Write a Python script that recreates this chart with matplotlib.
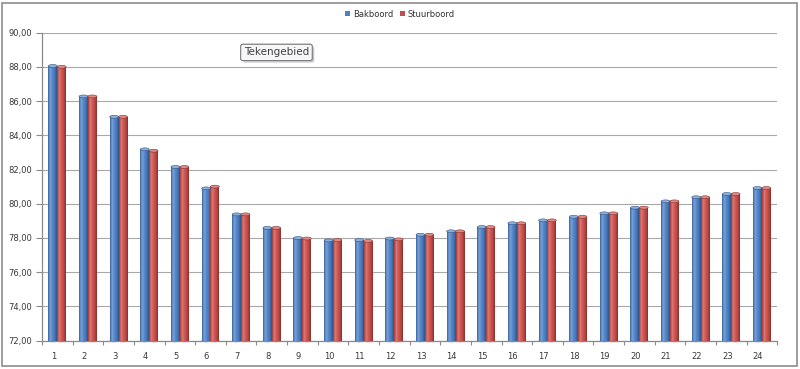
import numpy as np
import matplotlib
matplotlib.use('Agg')
import matplotlib.pyplot as plt
import matplotlib.transforms as mtransforms
import matplotlib.patheffects as pe
from matplotlib.colors import LinearSegmentedColormap
from matplotlib.patches import Ellipse, Patch, Rectangle

# data
categories = [str(i) for i in range(1, 25)]
bakboord = [88.05, 86.27, 85.08, 83.18, 82.15, 80.90, 79.38, 78.59, 78.00, 77.86, 77.88, 77.97,
            78.19, 78.39, 78.64, 78.86, 79.03, 79.24, 79.44, 79.77, 80.14, 80.38, 80.57, 80.92]
stuurboord = [88.00, 86.27, 85.08, 83.10, 82.15, 81.00, 79.38, 78.59, 77.97, 77.88, 77.83, 77.92,
              78.19, 78.39, 78.64, 78.86, 79.03, 79.24, 79.44, 79.77, 80.14, 80.38, 80.57, 80.92]
series_names = ['Bakboord', 'Stuurboord']
y_ticks = [72, 74, 76, 78, 80, 82, 84, 86, 88, 90]
y_labels = [f'{v:.2f}'.replace('.', ',') for v in y_ticks]
floor = 72

blue_cmap = LinearSegmentedColormap.from_list('b', ['#3A6296', '#7AA3DA', '#5587CA', '#4677B8', '#2F5282'])
red_cmap = LinearSegmentedColormap.from_list('r', ['#963A38', '#E07A76', '#D05753', '#BC4845', '#86302E'])


def cylinders(ax, bars, cmap, top_color, edge_color):
    # fake Excel's cylinder look: gradient clipped to each bar plus an elliptic cap
    grad = np.linspace(0, 1, 64).reshape(1, -1)
    for bar in bars:
        x0, w = bar.get_x(), bar.get_width()
        y0, h = bar.get_y(), bar.get_height()
        im = ax.imshow(grad, extent=(x0, x0 + w, y0, y0 + h), aspect='auto', cmap=cmap,
                       origin='lower', zorder=3, interpolation='bilinear')
        im.set_clip_path(bar)
        ax.add_patch(Ellipse((x0 + w / 2, y0 + h), w, 0.17, facecolor=top_color,
                             edgecolor=edge_color, lw=0.4, zorder=4))
        ax.add_patch(Ellipse((x0 + w / 2, y0), w, 0.17, facecolor=edge_color,
                             edgecolor='none', zorder=2.5, clip_on=False))


fig = plt.figure(figsize=(8, 3.69), dpi=100)
ax = fig.add_axes([0.0525, 0.0767, 0.919, 0.835])

x = np.arange(1, len(categories) + 1)
w = 0.29
b1 = ax.bar(x - w / 2, np.array(bakboord) - floor, w, bottom=floor, color='#4F81BD', zorder=3)
b2 = ax.bar(x + w / 2, np.array(stuurboord) - floor, w, bottom=floor, color='#C0504D', zorder=3)
cylinders(ax, b1, blue_cmap, '#8DB0DC', '#2F5282')
cylinders(ax, b2, red_cmap, '#DE8A87', '#86302E')

ax.set_xlim(0.5, len(categories) + 0.5)
ax.set_ylim(floor, 90)
ax.set_yticks(y_ticks)
ax.set_yticklabels(y_labels)
ax.set_xticks(x)
ax.set_xticklabels(categories)
ax.set_xticks(np.arange(0.5, len(categories) + 1), minor=True)

ax.yaxis.grid(True, color='#A8A8A8', lw=0.8, zorder=0)
ax.set_axisbelow(True)
for s in ['top', 'right']:
    ax.spines[s].set_visible(False)
for s in ['left', 'bottom']:
    ax.spines[s].set_color('#8A8A8A')
    ax.spines[s].set_linewidth(0.9)

ax.tick_params(axis='y', length=4, width=0.8, color='#8A8A8A', labelsize=6,
               labelcolor='#383838', pad=3)
ax.tick_params(axis='x', which='major', length=0, labelsize=6, labelcolor='#383838', pad=8)
ax.tick_params(axis='x', which='minor', length=3, width=0.8, color='#8A8A8A')

# category labels sit a little left of the bars (3D floor offset)
shift = mtransforms.ScaledTranslation(-4 / 100, 0, fig.dpi_scale_trans)
for lbl in ax.get_xticklabels():
    lbl.set_transform(lbl.get_transform() + shift)

handles = [Patch(facecolor='#4F81BD', edgecolor='none'), Patch(facecolor='#C0504D', edgecolor='none')]
fig.legend(handles, series_names, loc='center', bbox_to_anchor=(0.5, 0.962), ncol=2,
           frameon=False, fontsize=6, handlelength=0.6, handleheight=0.6,
           handletextpad=0.3, columnspacing=0.8, labelcolor='#303030')

tip = fig.text(0.3456, 0.858, 'Tekengebied', ha='center', va='center', fontsize=7.5,
               color='#404040',
               bbox=dict(boxstyle='round,pad=0.3,rounding_size=0.2', fc='#F5F6F8',
                         ec='#7A7A7A', lw=0.7))
tip.get_bbox_patch().set_path_effects([pe.withSimplePatchShadow(offset=(1.5, -1.5), alpha=0.3),
                                       pe.Normal()])

fig.add_artist(Rectangle((0.0025, 0.008), 0.9935, 0.984, transform=fig.transFigure,
                         fill=False, ec='#8C8C8C', lw=1.2))

fig.savefig('out.png', dpi=100)
